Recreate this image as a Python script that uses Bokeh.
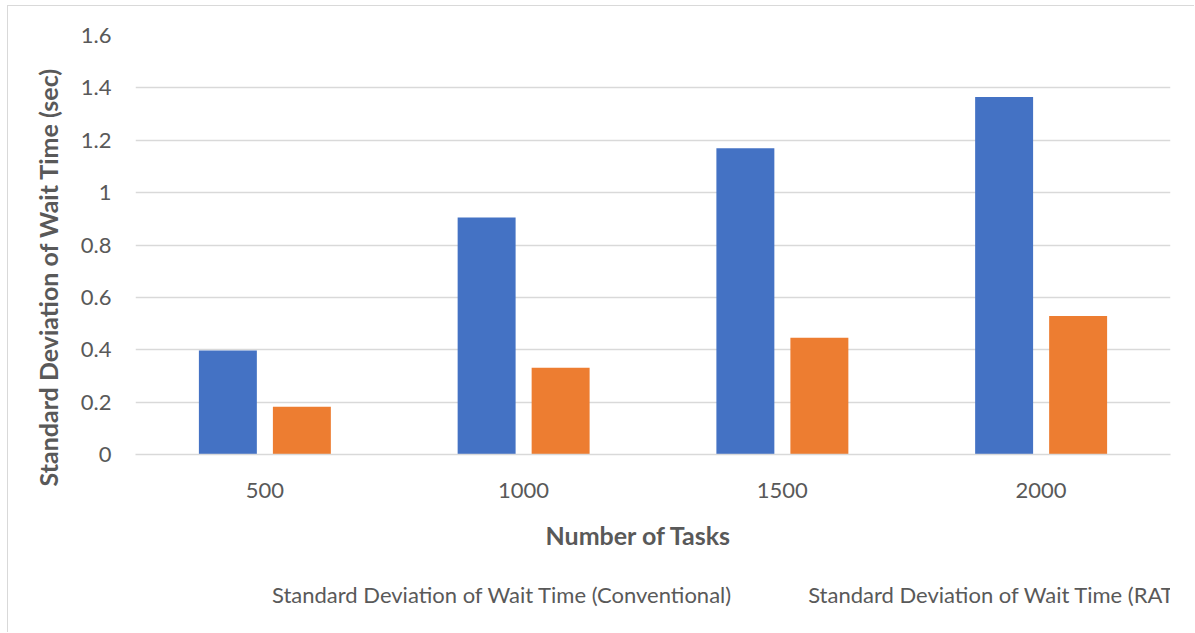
from bokeh.plotting import figure
from bokeh.layouts import column
from bokeh.models import (ColumnDataSource, FactorRange, Range1d, FixedTicker, CustomJSTickFormatter,
                          Legend, LegendItem, Title)
from bokeh.transform import dodge
from bokeh.embed import file_html
from bokeh.resources import INLINE

categories = ["500", "1000", "1500", "2000"]
conventional = [0.397, 0.905, 1.169, 1.365]
ratss = [0.182, 0.331, 0.446, 0.529]
y_ticks = [0, 0.2, 0.4, 0.6, 0.8, 1.0, 1.2, 1.4, 1.6]
x_title = "Number of Tasks"
y_title = "Standard Deviation of Wait Time (sec)"
series_names = ["Standard Deviation of Wait Time (Conventional)", "Standard Deviation of Wait Time (RATSS)"]

FONT = "Lato"
TXT = "#595959"
GRID = "#D9D9D9"
BLUE = "#4472C4"
ORANGE = "#ED7D31"

src = ColumnDataSource(dict(cat=categories, conv=conventional, ratss=ratss))

p = figure(x_range=FactorRange(*categories, range_padding=0), y_range=Range1d(0, 1.6),
           width=1187, height=570,
           output_backend="svg", toolbar_location=None,
           min_border_left=127, min_border_right=25, min_border_top=29, min_border_bottom=122,
           margin=(5, 0, 0, 7))
p.styles = {"border-left": "1px solid #D9D9D9", "border-top": "1px solid #D9D9D9"}
p.outline_line_color = None
p.background_fill_color = "white"
p.border_fill_color = "white"

p.vbar(x=dodge("cat", -0.143, range=p.x_range), top="conv", width=0.224, source=src,
       fill_color=BLUE, line_color=None)
p.vbar(x=dodge("cat", 0.143, range=p.x_range), top="ratss", width=0.224, source=src,
       fill_color=ORANGE, line_color=None)

p.xgrid.grid_line_color = None
p.ygrid.grid_line_color = GRID
p.ygrid.grid_line_width = 1.3
p.ygrid.level = "image"

p.yaxis.ticker = FixedTicker(ticks=y_ticks)
p.yaxis.formatter = CustomJSTickFormatter(code="return String(Math.round(tick*10)/10);")
for ax in (p.xaxis, p.yaxis):
    ax.major_tick_line_color = None
    ax.minor_tick_line_color = None
    ax.major_label_text_font = FONT
    ax.major_label_text_font_size = "22px"
    ax.major_label_text_color = TXT
p.yaxis.axis_line_color = None
p.xaxis.axis_line_color = GRID
p.xaxis.axis_line_width = 1.3
p.xaxis.major_label_standoff = 22
p.yaxis.major_label_standoff = 18

yt = Title(text=y_title, align="left", offset=-32, text_font=FONT, text_font_size="25px",
           text_font_style="bold", text_color=TXT, standoff=30)
p.add_layout(yt, "left")
xt = Title(text=x_title, align="left", offset=410, text_font=FONT, text_font_size="25px",
           text_font_style="bold", text_color=TXT, standoff=34)
p.add_layout(xt, "below")

# legend strip below the chart
lg = figure(width=1187, height=57, output_backend="svg", toolbar_location=None,
            x_range=Range1d(0, 1), y_range=Range1d(0, 1),
            x_axis_location=None, y_axis_location=None,
            min_border_left=0, min_border_right=0, min_border_top=0, min_border_bottom=0,
            margin=(0, 0, 0, 7))
lg.styles = {"border-left": "1px solid #D9D9D9"}
lg.outline_line_color = None
lg.grid.visible = False
lg.background_fill_color = "white"
lg.border_fill_color = "white"
k1 = lg.vbar(x=[], top=[], width=0.1, fill_color=BLUE, line_color=None)
k2 = lg.vbar(x=[], top=[], width=0.1, fill_color=ORANGE, line_color=None)

legend = Legend(items=[
    LegendItem(label=series_names[0], renderers=[k1]),
    LegendItem(label=series_names[1], renderers=[k2]),
], location=(117, 24), orientation="horizontal")
legend.label_text_font = FONT
legend.label_text_font_size = "22px"
legend.label_text_color = TXT
legend.glyph_width = 14
legend.glyph_height = 14
legend.label_standoff = 6
legend.spacing = 57
legend.padding = 0
legend.margin = 0
legend.border_line_color = None
legend.background_fill_alpha = 0
lg.add_layout(legend, "center")

layout = column(p, lg, spacing=0)
open("out.html", "w").write(file_html(layout, INLINE))
